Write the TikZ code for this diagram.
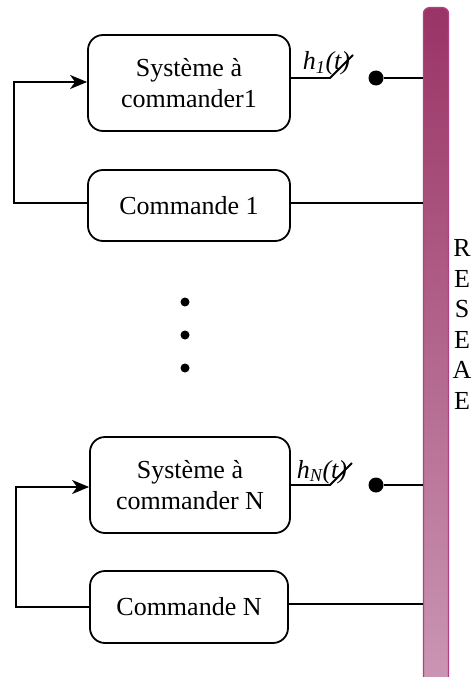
\documentclass[tikz,border=0pt]{standalone}
\usepackage{fontspec}
\setmainfont{Liberation Serif}
\usetikzlibrary{arrows.meta,calc}
\definecolor{bartop}{HTML}{9A3466}
\definecolor{barbot}{HTML}{CC9AB6}
\definecolor{barline}{HTML}{B0407E}
\begin{document}
\begin{tikzpicture}[x=1pt,y=-1pt,line width=1.8pt,
  blk/.style={draw,rounded corners=15pt,minimum width=202pt,align=center,
    font=\fontsize{26}{31}\selectfont,inner sep=0pt},
  dotn/.style={circle,fill,inner sep=0pt,minimum size=15pt},
  vdot/.style={circle,fill,inner sep=0pt,minimum size=9pt},
  lbl/.style={anchor=base west,inner sep=0pt,font=\fontsize{26}{30}\selectfont\itshape},
  arr/.style={-{Stealth[length=17pt,width=14pt,inset=5pt]}}]
\useasboundingbox (0,0) rectangle (476,677);
% bus bar
\node[draw=barline,line width=1.4pt,top color=bartop,bottom color=barbot,
  rounded corners=6pt,minimum width=25pt,minimum height=700pt,inner sep=0pt,
  anchor=north] (bar) at (436,7) {};
\node[font=\fontsize{26}{30.5}\selectfont,align=center,inner sep=0pt,anchor=north] (txt) at (462,239)
  {R\\E\\S\\E\\A\\E};
% blocks
\node[blk,minimum height=96pt] (s1) at (189,83) {Système à\\commander1};
\node[blk,minimum height=71pt] (c1) at (189,205.5) {Commande 1};
\node[blk,minimum width=200pt,minimum height=96pt] (sN) at (190,485) {Système à\\commander N};
\node[blk,minimum width=198pt,minimum height=72pt] (cN) at (189,607) {Commande N};
% vertical dots
\node[vdot] (v1) at (185,302) {};
\node[vdot] (v2) at (185,335) {};
\node[vdot] (v3) at (185,368) {};
% switch 1
\coordinate (k1) at (330,78);
\coordinate (k1e) at (353,55);
\node[dotn] (d1) at (376,78) {};
\draw (s1.east |- k1) -- (k1) -- (k1e);
\draw (d1) -- (bar.west |- d1);
\node[lbl] (h1) at (302,70) {h\textsubscript{1}(t)};
% switch N
\coordinate (kN) at (330,485);
\coordinate (kNe) at (352,463);
\node[dotn] (dN) at (376,485) {};
\draw (sN.east |- kN) -- (kN) -- (kNe);
\draw (dN) -- (bar.west |- dN);
\node[lbl] (hN) at (296,478) {h\textsubscript{N}(t)};
% command to bar
\draw (c1.east |- 0,203) -- (bar.west |- 0,203);
\draw (cN.east |- 0,604) -- (bar.west |- 0,604);
% feedback loops
\coordinate (f1a) at (14,203);
\coordinate (f1b) at (14,82);
\draw[arr] (c1.west |- f1a) -- (f1a) -- (f1b) -- (s1.west |- f1b);
\coordinate (fNa) at (16,607);
\coordinate (fNb) at (16,487);
\draw[arr] (cN.west |- fNa) -- (fNa) -- (fNb) -- (sN.west |- fNb);
\end{tikzpicture}
\end{document}
